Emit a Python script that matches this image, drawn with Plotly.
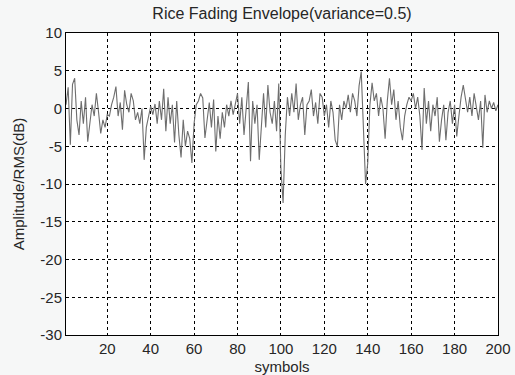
import plotly.graph_objects as go

symbols = list(range(1, 201))
amplitude_db = [
    0.5, 2.8, -4.8, 3.2, 4.0, -1.5, -3.5, 1.0, -2.0, 1.5,
    -4.4, -2.0, 0.5, -1.0, 2.0, -0.5, -3.3, -1.5, -2.5, -0.8,
    -1.0, 0.5, 1.5, 2.9, -1.0, 0.8, -2.8, 2.4, 0.5, -0.5,
    2.0, 1.0, -1.5, -0.5, -2.0, 0.0, -6.8, -2.5, -1.0, 0.3,
    -0.8, 0.6, -2.0, 1.0, -1.5, 2.6, -3.0, 1.5, -2.0, 0.5,
    -4.5, 1.0, -3.5, -6.5, -1.5, -5.0, -3.0, -4.0, -7.2, -2.0,
    0.5, 1.0, 2.0, 1.4, -3.9, -1.5, 0.8, -2.5, 1.2, -5.7,
    -1.0, -4.0, -0.5, -2.5, 0.5, -1.0, 1.0, -0.8, 0.5, 2.0,
    -2.0, 1.5, -3.5, 0.5, 3.5, -7.0, 1.0, -2.0, 0.5, -6.8,
    -1.5, 2.0, -2.5, 3.1, -0.5, -2.0, 1.0, -3.0, 3.3, -8.0,
    -12.5, -3.5, 1.5, -1.0, 2.0, -0.5, 3.3, -1.5, 0.5, 1.5,
    -3.5, 0.5, 1.0, 2.5, -1.0, 0.8, -2.0, 2.0, 1.5, -1.0,
    0.5, -2.5, 1.0, -0.5, -4.2, -5.0, 0.5, -1.5, 1.0, 0.0,
    1.8, -0.5, 2.0, 1.0, -1.0, 3.0, 4.9, -2.0, -10.0, -7.2,
    0.5, 3.4, 1.0, 2.0, -1.0, 1.5, 0.0, -4.0, 1.0, 4.0,
    0.5, 2.5, -1.5, 1.0, -2.5, -4.2, -1.0, 0.5, 1.5, 1.0,
    2.0, 0.0, 1.5, -1.0, -5.5, 2.7, -2.0, 1.0, -3.0, 0.5,
    -1.0, 1.5, -4.4, -1.5, 0.5, -4.2, -0.5, 1.0, -2.0, 0.5,
    -3.7, -1.0, 1.5, 3.1, 1.0, -0.5, 1.5, -1.0, 2.0, 0.5,
    -1.5, 1.0, -5.2, 1.8, -0.5, 1.0, 0.0, 0.8, -0.3, 0.5,
]
x_ticks = [20, 40, 60, 80, 100, 120, 140, 160, 180, 200]
y_ticks = [-30, -25, -20, -15, -10, -5, 0, 5, 10]

fig = go.Figure()
fig.add_trace(go.Scatter(
    x=symbols, y=amplitude_db, mode="lines",
    line=dict(color="#6e6e6e", width=1.1),
    showlegend=False, hoverinfo="skip",
))

font_family = "Liberation Sans, Arial, sans-serif"
fig.update_layout(
    width=515, height=375,
    margin=dict(l=66, r=17, t=33, b=40, autoexpand=False),
    paper_bgcolor="#f6f7f7",
    plot_bgcolor="white",
    font=dict(family=font_family, size=15, color="#262626"),
    title=dict(text="Rice Fading Envelope(variance=0.5)",
               x=0.5, xref="paper", xanchor="center",
               y=1 - 13 / 375, yref="container", yanchor="middle",
               pad=dict(t=0, b=0, l=0, r=0),
               font=dict(size=16, color="#262626")),
)
fig.update_xaxes(
    range=[1, 200], tickvals=x_ticks, ticktext=[str(v) for v in x_ticks],
    showgrid=True, gridcolor="black", gridwidth=1, griddash="3px,3px",
    showline=True, linecolor="black", linewidth=1, mirror=True,
    zeroline=False, ticks="", tickfont=dict(size=15), automargin=False,
    title=dict(text="symbols", standoff=6, font=dict(size=15)),
)
fig.update_yaxes(
    range=[-30, 10], tickvals=y_ticks, ticktext=[str(v) for v in y_ticks],
    showgrid=True, gridcolor="black", gridwidth=1, griddash="3px,3px",
    showline=True, linecolor="black", linewidth=1, mirror=True,
    zeroline=False, ticks="", tickfont=dict(size=15), automargin=False,
    title=dict(text="Amplitude/RMS(dB)", standoff=12, font=dict(size=15)),
)

fig.write_html("out.html", config={"displayModeBar": False},
               post_script="document.body.style.margin='0';")
